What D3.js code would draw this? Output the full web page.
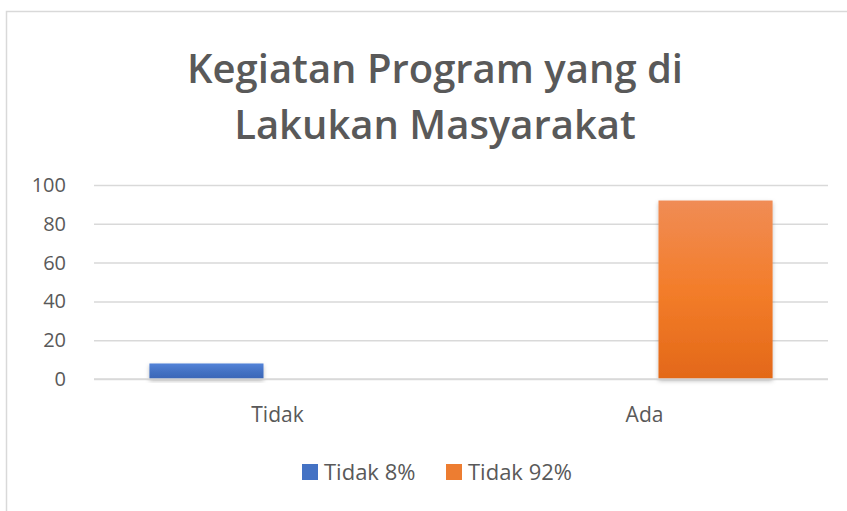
<!DOCTYPE html>
<html>
<head>
<meta charset="utf-8">
<script src="https://cdn.jsdelivr.net/npm/d3@7"></script>
<style>
  body { margin: 0; background: #fff; }
  text { font-family: "Open Sans", "Noto Sans", sans-serif; }
</style>
</head>
<body>
<script>
// chart data
var categories = ["Tidak", "Ada"];
var series = ["Tidak 8%", "Tidak 92%"];
var values = [[8, 0], [0, 92]];   // values[series][category]
var yTicks = [0, 20, 40, 60, 80, 100];
var titleLines = ["Kegiatan Program yang di", "Lakukan Masyarakat"];

var W = 847, H = 511;
var plot = {left: 94, right: 828, top: 185, bottom: 379};

var svg = d3.select("body").append("svg")
  .attr("width", W).attr("height", H);

// gradients for the bars
var defs = svg.append("defs");
var grads = [
  {id: "gBlue", stops: ["#5383d8", "#4472c4", "#3a66b6"]},
  {id: "gOrange", stops: ["#f08c55", "#f37d2a", "#e36818"]}
];
grads.forEach(function(g){
  var lg = defs.append("linearGradient").attr("id", g.id)
    .attr("x1", 0).attr("y1", 0).attr("x2", 0).attr("y2", 1);
  g.stops.forEach(function(c, i){
    lg.append("stop").attr("offset", (i / (g.stops.length - 1))).attr("stop-color", c);
  });
});
var shadow = defs.append("filter").attr("id", "shadow")
  .attr("x", "-10%").attr("y", "-10%").attr("width", "120%").attr("height", "130%");
shadow.append("feDropShadow").attr("dx", 0).attr("dy", 2).attr("stdDeviation", 2)
  .attr("flood-color", "#000").attr("flood-opacity", 0.25);

// frame
svg.append("rect").attr("x", 6.5).attr("y", 11.5).attr("width", W + 10).attr("height", H + 10)
  .attr("fill", "none").attr("stroke", "#d9d9d9").attr("stroke-width", 1.5);

// title
svg.append("g").selectAll("text").data(titleLines).enter().append("text")
  .attr("x", 435).attr("y", function(d, i){ return 83 + i * 56; })
  .attr("text-anchor", "middle")
  .attr("font-size", 40).attr("font-weight", 600).attr("fill", "#595959")
  .text(function(d){ return d; });

// scales
var y = d3.scaleLinear().domain([0, 100]).range([plot.bottom, plot.top]);
var x0 = d3.scaleBand().domain(categories).range([plot.left, plot.right]);
var x1 = d3.scaleBand().domain(series).range([0, x0.bandwidth()])
  .paddingInner(0.197).paddingOuter(0.39);
var colors = d3.scaleOrdinal().domain(series).range(["url(#gBlue)", "url(#gOrange)"]);
var legendColors = d3.scaleOrdinal().domain(series).range(["#4472c4", "#ed7d31"]);

// gridlines + y labels
var yAxis = d3.axisLeft(y).tickValues(yTicks)
  .tickSize(-(plot.right - plot.left)).tickPadding(28);
var gy = svg.append("g").attr("transform", "translate(" + plot.left + ",0)").call(yAxis);
gy.select(".domain").remove();
gy.selectAll(".tick line").attr("stroke", "#d9d9d9").attr("stroke-width", 1.5);
gy.selectAll(".tick text").attr("font-size", 20).attr("font-weight", 500).attr("fill", "#595959")
  .attr("font-family", "Open Sans, sans-serif");

// bars
var groups = svg.append("g").selectAll("g").data(categories).enter().append("g")
  .attr("transform", function(c){ return "translate(" + x0(c) + ",0)"; });
groups.selectAll("rect")
  .data(function(c, ci){ return series.map(function(s, si){ return {s: s, v: values[si][ci]}; }); })
  .enter().append("rect")
  .filter(function(d){ return d.v > 0; })
  .attr("x", function(d){ return x1(d.s); })
  .attr("y", function(d){ return y(d.v); })
  .attr("width", x1.bandwidth())
  .attr("height", function(d){ return y(0) - y(d.v); })
  .attr("fill", function(d){ return colors(d.s); })
  .attr("filter", "url(#shadow)");

// x axis line
svg.append("line").attr("x1", plot.left).attr("x2", plot.right)
  .attr("y1", y(0)).attr("y2", y(0)).attr("stroke", "#d9d9d9").attr("stroke-width", 1.5);

// x labels
var xAxis = d3.axisBottom(x0).tickSize(0).tickPadding(28);
var gx = svg.append("g").attr("transform", "translate(0," + plot.bottom + ")").call(xAxis);
gx.select(".domain").remove();
gx.selectAll(".tick text").attr("font-size", 21).attr("font-weight", 500).attr("fill", "#595959")
  .attr("font-family", "Open Sans, sans-serif");

// legend
var legendX = [302, 446];
var lg = svg.append("g").selectAll("g").data(series).enter().append("g")
  .attr("transform", function(d, i){ return "translate(" + legendX[i] + ",464)"; });
lg.append("rect").attr("width", 16).attr("height", 16)
  .attr("fill", function(d){ return legendColors(d); });
lg.append("text").attr("x", 22).attr("y", 16)
  .attr("font-size", 22).attr("font-weight", 500).attr("fill", "#595959")
  .text(function(d){ return d; });
</script>
</body>
</html>
